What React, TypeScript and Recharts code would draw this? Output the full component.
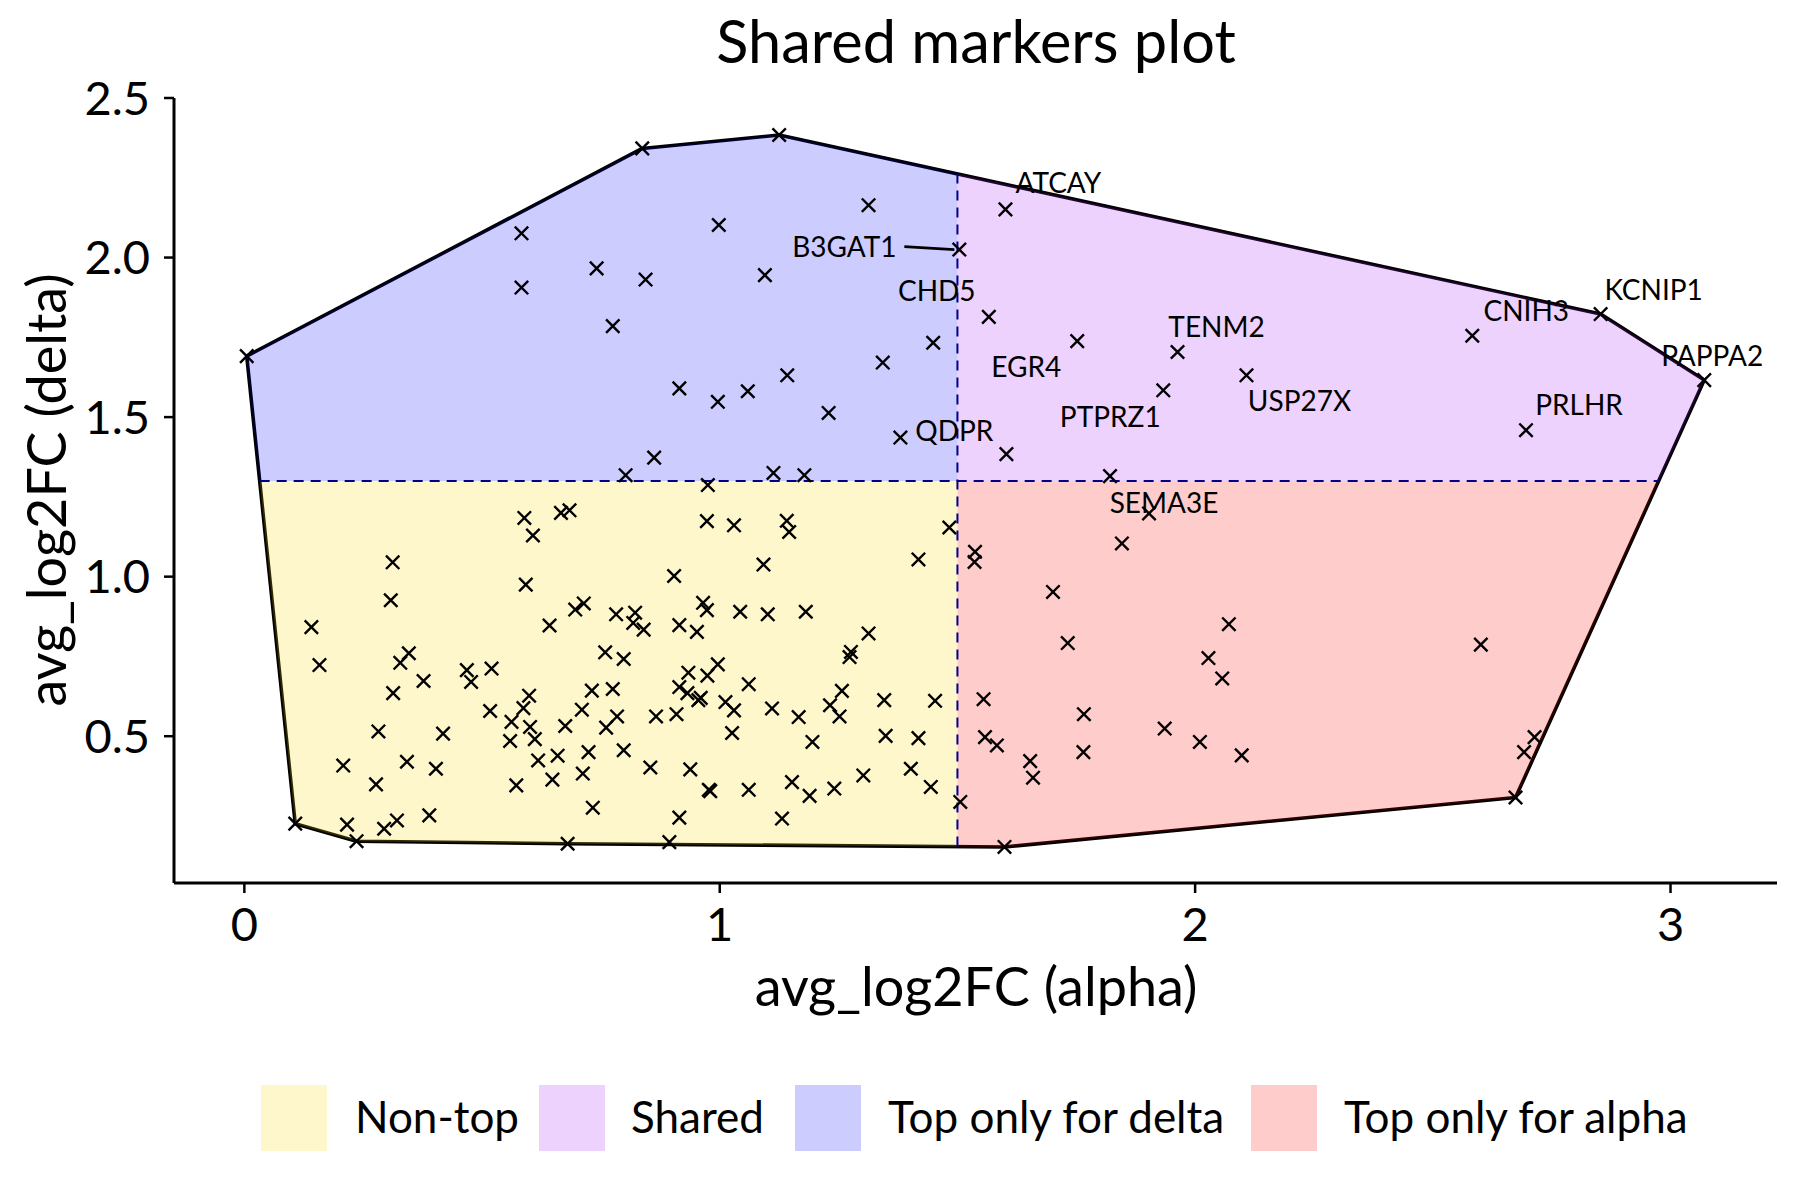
import React from "react";
import { ScatterChart, Scatter, XAxis, YAxis } from "recharts";

const FONT = "Lato, 'Noto Sans', sans-serif";

// thresholds that split the markers into groups
const alphaCut = 1.5;
const deltaCut = 1.3;

// labelled genes
const geneNames = ["ATCAY", "B3GAT1", "CHD5", "EGR4", "TENM2", "USP27X", "PTPRZ1", "CNIH3", "KCNIP1", "PAPPA2", "PRLHR", "QDPR", "SEMA3E"];
const geneAlpha = [1.601, 1.504, 1.566, 1.752, 1.963, 2.108, 1.933, 2.583, 2.853, 3.071, 2.696, 1.380, 1.903];
const geneDelta = [2.151, 2.025, 1.814, 1.738, 1.704, 1.631, 1.584, 1.755, 1.823, 1.616, 1.459, 1.436, 1.198];

// all other markers
const alphaFC = [
  0.589, 0.666, 0.684, 0.607, 0.312, 0.592, 0.308, 0.696, 0.714, 0.141,
  0.642, 0.346, 0.328, 0.158, 0.377, 0.468, 0.477, 0.520, 0.313, 0.599,
  0.731, 0.587, 0.517, 0.562, 0.601, 0.675, 0.710, 0.282, 0.418, 0.559,
  0.611, 0.618, 0.659, 0.724, 0.208, 0.342, 0.403, 0.277, 0.572, 0.648,
  0.712, 0.733, 0.216, 0.294, 0.321, 0.389, 0.107, 0.236, 0.680,
  0.802, 1.113, 1.178, 0.975, 0.973, 1.030, 1.141, 1.146, 1.483, 1.418,
  1.092, 0.904, 0.782, 0.822, 0.818, 0.840, 0.965, 0.973, 1.043, 1.101,
  1.181, 0.915, 0.952, 1.313, 1.276, 1.273, 0.759, 0.798, 0.934, 0.996,
  0.974, 1.061, 0.775, 0.915, 0.932, 0.955, 0.960, 1.012, 1.030, 1.257,
  1.232, 1.252, 1.346, 1.453, 1.110, 1.166, 0.784, 0.761, 0.866, 0.909,
  1.026, 1.195, 1.349, 1.418, 0.798, 0.854, 0.938, 0.980, 0.977, 1.061,
  1.152, 1.189, 1.241, 1.302, 1.402, 1.444, 1.506, 0.915, 1.131, 0.894,
  0.005, 0.837, 1.125, 1.313, 0.583, 0.998, 0.741, 0.844, 0.583, 1.095,
  0.775, 1.449, 1.343, 1.142, 0.915, 0.996, 1.059, 1.229, 0.862,
  1.821, 1.846, 1.537, 1.536, 1.701, 2.071, 2.601, 1.732, 2.028, 2.057,
  1.555, 1.766, 1.936, 1.558, 1.583, 2.010, 2.098, 1.765, 1.653, 1.659,
  1.599, 2.674, 2.714, 2.692, 1.603,
];
const deltaFC = [
  1.184, 1.200, 1.208, 1.129, 1.045, 0.975, 0.926, 0.897, 0.916, 0.842,
  0.847, 0.760, 0.730, 0.723, 0.673, 0.707, 0.670, 0.712, 0.635, 0.627,
  0.643, 0.588, 0.579, 0.545, 0.529, 0.532, 0.583, 0.515, 0.508, 0.485,
  0.491, 0.424, 0.439, 0.450, 0.408, 0.420, 0.398, 0.349, 0.346, 0.364,
  0.383, 0.276, 0.223, 0.210, 0.236, 0.252, 0.226, 0.171, 0.163,
  1.318, 1.325, 1.318, 1.287, 1.174, 1.161, 1.175, 1.140, 1.154, 1.054,
  1.038, 1.002, 0.882, 0.887, 0.855, 0.834, 0.918, 0.895, 0.890, 0.882,
  0.890, 0.848, 0.827, 0.822, 0.764, 0.748, 0.763, 0.742, 0.699, 0.725,
  0.690, 0.663, 0.648, 0.654, 0.635, 0.613, 0.620, 0.607, 0.581, 0.642,
  0.597, 0.562, 0.613, 0.611, 0.587, 0.560, 0.562, 0.527, 0.562, 0.569,
  0.510, 0.482, 0.501, 0.494, 0.456, 0.402, 0.396, 0.328, 0.332, 0.332,
  0.356, 0.313, 0.336, 0.377, 0.398, 0.341, 0.294, 0.245, 0.242, 0.168,
  1.691, 2.342, 2.384, 2.164, 2.076, 2.102, 1.966, 1.931, 1.906, 1.945,
  1.785, 1.733, 1.671, 1.631, 1.590, 1.548, 1.581, 1.513, 1.373,
  1.315, 1.104, 1.078, 1.046, 0.952, 0.851, 0.787, 0.792, 0.745, 0.681,
  0.616, 0.569, 0.524, 0.497, 0.471, 0.482, 0.440, 0.450, 0.422, 0.370,
  0.153, 0.308, 0.497, 0.450, 1.384,
];

const xTicks = [0, 1, 2, 3];
const yTicks = [0.5, 1, 1.5, 2, 2.5];

const groupNames = ["Non-top", "Shared", "Top only for delta", "Top only for alpha"];
const groupColors = ["#FFD700", "#A020F0", "#0000FF", "#FF0000"];

// label placement (pixels from the marker), like ggrepel left them
const labelOffset: Record<string, [number, number]> = {
  ATCAY: [53, -26], B3GAT1: [-115, -3], CHD5: [-52, -26], EGR4: [-51, 26],
  TENM2: [39, -25], USP27X: [53, 26], PTPRZ1: [-53, 27], CNIH3: [54, -25],
  KCNIP1: [53, -24], PAPPA2: [8, -24], PRLHR: [53, -25], QDPR: [54, -7], SEMA3E: [15, -11],
};
const labelSegment: Record<string, [number, number, number, number]> = {
  B3GAT1: [-55, -3, -5, 0],
};
const legendKeyX = [261, 539, 795, 1251];
const legendTextX = [355, 631, 888, 1344];

type Pt = { x: number; y: number };

const allPoints: Pt[] = [
  ...alphaFC.map((x, i) => ({ x, y: deltaFC[i] })),
  ...geneAlpha.map((x, i) => ({ x, y: geneDelta[i] })),
];
const genePoints = geneNames.map((gene, i) => ({ x: geneAlpha[i], y: geneDelta[i], gene }));

function convexHull(pts: Pt[]): Pt[] {
  const s = [...pts].sort((a, b) => a.x - b.x || a.y - b.y);
  const cross = (o: Pt, a: Pt, b: Pt) => (a.x - o.x) * (b.y - o.y) - (a.y - o.y) * (b.x - o.x);
  const lower: Pt[] = [];
  for (const p of s) {
    while (lower.length >= 2 && cross(lower[lower.length - 2], lower[lower.length - 1], p) <= 0) lower.pop();
    lower.push(p);
  }
  const upper: Pt[] = [];
  for (let i = s.length - 1; i >= 0; i--) {
    const p = s[i];
    while (upper.length >= 2 && cross(upper[upper.length - 2], upper[upper.length - 1], p) <= 0) upper.pop();
    upper.push(p);
  }
  upper.pop();
  lower.pop();
  return lower.concat(upper);
}

function clip(poly: Pt[], inside: (p: Pt) => boolean, cut: (a: Pt, b: Pt) => Pt): Pt[] {
  const out: Pt[] = [];
  for (let i = 0; i < poly.length; i++) {
    const cur = poly[i];
    const prev = poly[(i + poly.length - 1) % poly.length];
    const ci = inside(cur);
    const pi = inside(prev);
    if (ci) {
      if (!pi) out.push(cut(prev, cur));
      out.push(cur);
    } else if (pi) {
      out.push(cut(prev, cur));
    }
  }
  return out;
}
const atX = (x0: number) => (a: Pt, b: Pt) => ({ x: x0, y: a.y + ((b.y - a.y) * (x0 - a.x)) / (b.x - a.x) });
const atY = (y0: number) => (a: Pt, b: Pt) => ({ x: a.x + ((b.x - a.x) * (y0 - a.y)) / (b.y - a.y), y: y0 });

const hull = convexHull(allPoints);
const leftPart = clip(hull, (p) => p.x <= alphaCut, atX(alphaCut));
const rightPart = clip(hull, (p) => p.x >= alphaCut, atX(alphaCut));
const lowPart = clip(hull, (p) => p.y <= deltaCut, atY(deltaCut));
const regions = [
  clip(leftPart, (p) => p.y <= deltaCut, atY(deltaCut)),
  clip(rightPart, (p) => p.y >= deltaCut, atY(deltaCut)),
  clip(leftPart, (p) => p.y >= deltaCut, atY(deltaCut)),
  clip(rightPart, (p) => p.y <= deltaCut, atY(deltaCut)),
];
const vCut = leftPart.filter((p) => Math.abs(p.x - alphaCut) < 1e-9).map((p) => p.y);
const hCut = lowPart.filter((p) => Math.abs(p.y - deltaCut) < 1e-9).map((p) => p.x);
const vLine = [{ x: alphaCut, y: Math.min(...vCut) }, { x: alphaCut, y: Math.max(...vCut) }];
const hLine = [{ x: Math.min(...hCut), y: deltaCut }, { x: Math.max(...hCut), y: deltaCut }];

const pathOf = (pts: any[], closed: boolean) =>
  pts.map((p, i) => `${i ? "L" : "M"}${p.x},${p.y}`).join(" ") + (closed ? " Z" : "");

const noMark = () => <g />;

const Cross = (props: any) => {
  const { cx, cy } = props;
  const r = 6.7;
  return (
    <path
      d={`M${cx - r},${cy - r}L${cx + r},${cy + r}M${cx - r},${cy + r}L${cx + r},${cy - r}`}
      stroke="#000"
      strokeWidth={2.4}
    />
  );
};

const GeneLabel = (props: any) => {
  const gene = props.payload?.gene ?? props.gene;
  const [dx, dy] = labelOffset[gene] ?? [0, 0];
  const seg = labelSegment[gene];
  return (
    <g>
      {seg && (
        <line x1={props.cx + seg[0]} y1={props.cy + seg[1]} x2={props.cx + seg[2]} y2={props.cy + seg[3]} stroke="#000" strokeWidth={2.8} />
      )}
      <text x={props.cx + dx} y={props.cy + dy} dy="0.36em" textAnchor="middle" fontSize={28} fontFamily={FONT} fill="#000">
        {gene}
      </text>
    </g>
  );
};

export default function App() {
  return (
    <div style={{ position: "absolute", left: 0, top: 0, width: 1800, height: 1200, background: "#fff" }}>
      <ScatterChart width={1800} height={1200} margin={{ top: 98, right: 23, bottom: 257, left: 74 }} style={{ fontFamily: FONT }}>
        <XAxis
          type="number"
          dataKey="x"
          domain={[-0.148, 3.224]}
          allowDataOverflow
          ticks={xTicks}
          height={60}
          tickSize={10}
          tickMargin={15}
          axisLine={{ stroke: "#000", strokeWidth: 3 }}
          tickLine={{ stroke: "#000", strokeWidth: 2.5 }}
          tick={{ fontSize: 47, fill: "#000", fontFamily: FONT }}
        />
        <YAxis
          type="number"
          dataKey="y"
          domain={[0.04, 2.5]}
          allowDataOverflow
          ticks={yTicks}
          width={100}
          tickSize={10}
          tickMargin={14}
          tickFormatter={(v: number) => v.toFixed(1)}
          axisLine={{ stroke: "#000", strokeWidth: 3 }}
          tickLine={{ stroke: "#000", strokeWidth: 2.5 }}
          tick={{ fontSize: 47, fill: "#000", fontFamily: FONT }}
        />
        <Scatter
          data={hull}
          isAnimationActive={false}
          shape={noMark}
          lineType="joint"
          line={(p: any) => <path d={pathOf(p.points, true)} fill="none" stroke="#000" strokeWidth={3.6} strokeLinejoin="round" />}
        />
        {regions.map((poly, i) => (
          <Scatter
            key={groupNames[i]}
            data={poly}
            isAnimationActive={false}
            shape={noMark}
            lineType="joint"
            line={(p: any) => <path d={pathOf(p.points, true)} fill={groupColors[i]} fillOpacity={0.2} stroke="none" />}
          />
        ))}
        {[vLine, hLine].map((seg, i) => (
          <Scatter
            key={`cut-${i}`}
            data={seg}
            isAnimationActive={false}
            shape={noMark}
            lineType="joint"
            line={(p: any) => <path d={pathOf(p.points, false)} fill="none" stroke="#00008B" strokeWidth={2} strokeDasharray="10 7" />}
          />
        ))}
        <Scatter data={allPoints} isAnimationActive={false} shape={Cross} />
        <Scatter data={genePoints} isAnimationActive={false} shape={GeneLabel} />
      </ScatterChart>
      <svg width={1800} height={1200} style={{ position: "absolute", left: 0, top: 0, pointerEvents: "none" }} fontFamily={FONT}>
        <text x={976} y={63} textAnchor="middle" fontSize={59.5} fill="#000">Shared markers plot</text>
        <text x={976} y={1006} textAnchor="middle" fontSize={54} fill="#000">avg_log2FC (alpha)</text>
        <text transform="translate(66,490) rotate(-90)" textAnchor="middle" fontSize={54} fill="#000">avg_log2FC (delta)</text>
        {groupNames.map((g, i) => (
          <g key={g}>
            <rect x={legendKeyX[i]} y={1085} width={66} height={66} fill={groupColors[i]} fillOpacity={0.2} />
            <text x={legendTextX[i]} y={1133} fontSize={44} fill="#000">{g}</text>
          </g>
        ))}
      </svg>
    </div>
  );
}
